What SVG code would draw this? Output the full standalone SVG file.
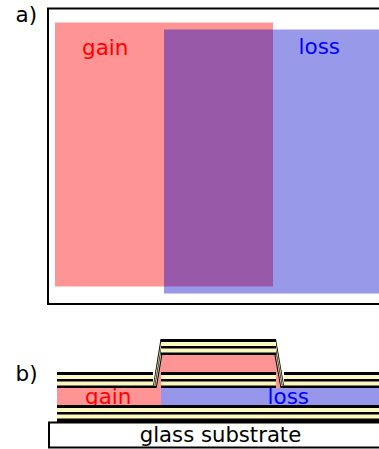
<svg xmlns="http://www.w3.org/2000/svg" width="379" height="449" viewBox="0 0 379 449">
<style>
text{font-family:"DejaVu Sans",sans-serif;font-size:21.500px}
.lbl{fill:#000}
.k{fill:#000}
.c{fill:#fdf7c0}
.p{fill:#ff9494}
.b{fill:#9696ea}
.s{fill:none;stroke:#fdf7c0;stroke-width:.8}
.frame{fill:#fff;stroke:#000;stroke-width:2}
</style>
<rect width="379" height="449" fill="#fff"/>
<g id="panel-a">
<text class="lbl" x="15.500" y="22">a)</text>
<rect class="frame" x="48" y="8.500" width="340" height="295.500"/>
<rect x="55" y="22.500" width="218" height="264" fill="#f00" fill-opacity=".42"/>
<rect x="164" y="29.500" width="220" height="264" fill="#0000c8" fill-opacity=".4"/>
<text x="82" y="54.500" fill="#f00">gain</text>
<text x="298.500" y="54" fill="#00f">loss</text>
</g>
<g id="panel-b">
<text class="lbl" x="15.500" y="381">b)</text>
<g id="gain-layer">
<polygon class="p" points="57,388 153,388 158,355 276,355 284,388 161,405 57,405"/>
<rect class="p" x="57" y="388" width="104" height="17"/>
</g>
<rect id="loss-layer" class="b" x="161" y="388" width="218" height="17"/>
<text x="85" y="404" fill="#f00">gain</text>
<text x="267.500" y="404" fill="#00f">loss</text>
<g id="bottom-mirror">
<rect class="k" x="57" y="405" width="322" height="17"/>
<rect class="c" x="57" y="408" width="322" height="4"/>
<rect class="c" x="57" y="414.500" width="322" height="4"/>
</g>
<g id="substrate">
<rect class="frame" x="49" y="422.500" width="340" height="25"/>
<text x="220.500" y="442" font-size="21.200" style="font-size:21.200px" fill="#000" text-anchor="middle">glass substrate</text>
</g>
<g id="left-mirror">
<rect class="k" x="57" y="372" width="96" height="16"/>
<rect class="c" x="57" y="375" width="96" height="4"/>
<rect class="c" x="57" y="381.500" width="96" height="4"/>
</g>
<g id="mid-mirror">
<rect class="k" x="161" y="372" width="115" height="16"/>
<rect class="c" x="161" y="375" width="115" height="4"/>
<rect class="c" x="161" y="381.500" width="115" height="4"/>
</g>
<g id="right-mirror">
<rect class="k" x="284" y="372" width="95" height="16"/>
<rect class="c" x="284" y="375" width="95" height="4"/>
<rect class="c" x="284" y="381.500" width="95" height="4"/>
</g>
<g id="top-mirror">
<polygon class="k" points="152.700,388 160.500,339 165,339 156.700,388"/>
<polygon class="k" points="284.500,388 276,339 271.500,339 280.500,388"/>
<line class="s" x1="154.100" y1="386" x2="161.700" y2="341"/>
<line class="s" x1="155.600" y1="386" x2="163.200" y2="341"/>
<line class="s" x1="283" y1="386" x2="275" y2="341"/>
<line class="s" x1="281.500" y1="386" x2="273.500" y2="341"/>
<rect class="k" x="161" y="339" width="115" height="16"/>
<rect class="c" x="161" y="342" width="115" height="4"/>
<rect class="c" x="161" y="348.500" width="115" height="4"/>
</g>
</g>
</svg>
